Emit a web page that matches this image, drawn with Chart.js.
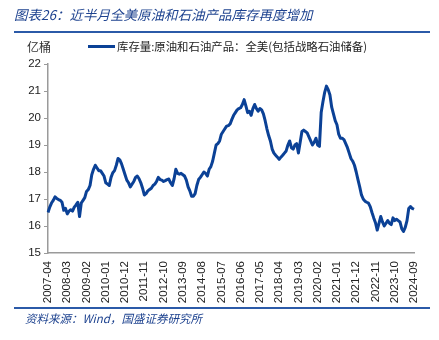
<!DOCTYPE html>
<html>
<head>
<meta charset="utf-8">
<script src="https://cdn.jsdelivr.net/npm/chart.js@4"></script>
<style>
  body { margin: 0; background: #fff; }
  #wrap { position: relative; width: 439px; height: 340px; overflow: hidden; }
  #grafico { position: absolute; left: 0; top: 0; }
  .txt { position: absolute; white-space: nowrap; font-family: "Noto Sans CJK SC", "Noto Sans", sans-serif; }
  .titulo { left: 14px; top: 4px; font-size: 13.5px; font-style: italic; color: #1d428f; }
  .raya { position: absolute; left: 14px; width: 416px; height: 2px; background: #2b5aa8; }
  .unidad { left: 27px; top: 38px; font-size: 12px; color: #333; }
  .leyenda-linea { position: absolute; left: 88px; top: 45px; width: 27px; height: 3px; background: #0b4196; }
  .leyenda { left: 117px; top: 38px; font-size: 11.4px; color: #222; }
  .fuente { left: 25px; top: 310px; font-size: 11.5px; font-style: italic; color: #1d428f; }
</style>
</head>
<body>
<div id="wrap">
  <canvas id="grafico" width="439" height="340"></canvas>
  <div class="txt titulo">图表26：近半月全美原油和石油产品库存再度增加</div>
  <div class="raya" style="top:31px"></div>
  <div class="txt unidad">亿桶</div>
  <div class="leyenda-linea"></div>
  <div class="txt leyenda">库存量:原油和石油产品：全美(包括战略石油储备)</div>
  <div class="raya" style="top:307px"></div>
  <div class="txt fuente">资料来源：Wind，国盛证券研究所</div>
</div>
<script>
// meses: 2007-04 .. 2024-09 (mensual)
const inicio = { anio: 2007, mes: 4 }
const total_meses = 210

// etiquetas que se ven en el eje x
const etiquetas_eje = ["2007-04", "2008-03", "2009-02", "2010-01", "2010-12", "2011-11", "2012-10",
  "2013-09", "2014-08", "2015-07", "2016-06", "2017-05", "2018-04", "2019-03", "2020-02",
  "2021-01", "2021-12", "2022-11", "2023-10", "2024-09"]

const ticks_y = [15, 16, 17, 18, 19, 20, 21, 22]

// inventario (亿桶), por tramos
const valores_2007_2010 = [16.5, 16.7, 16.85, 16.95, 17.08, 17.02, 16.98, 16.95, 16.88, 16.58,
  16.65, 16.45, 16.55, 16.6, 16.55, 16.7, 16.78, 16.88, 16.35, 16.85,
  16.95, 17.05, 17.28, 17.35, 17.5, 17.9, 18.1, 18.25, 18.15, 18.05,
  18.05, 17.95, 17.85, 17.6, 17.55, 17.5, 17.8, 17.97, 18.05, 18.25]
const valores_2010_2014 = [18.5, 18.45, 18.3, 18.1, 17.9, 17.7, 17.6, 17.45, 17.55, 17.65,
  17.8, 17.85, 17.75, 17.6, 17.4, 17.15, 17.2, 17.3, 17.35, 17.4,
  17.5, 17.55, 17.65, 17.8, 17.72, 17.7, 17.65, 17.68, 17.72, 17.74,
  17.6, 17.5, 17.75, 18.1, 17.95, 17.92, 17.95, 17.9, 17.85, 17.7]
const valores_2014_2017 = [17.45, 17.3, 17.1, 17.1, 17.2, 17.5, 17.72, 17.8, 17.9, 18.0,
  17.95, 17.85, 18.1, 18.2, 18.4, 18.7, 19.0, 19.05, 19.15, 19.4,
  19.5, 19.6, 19.7, 19.72, 19.78, 19.95, 20.1, 20.2, 20.3, 20.35,
  20.38, 20.5, 20.68, 20.45, 20.2, 20.25, 20.1, 20.35, 20.5, 20.35]
const valores_2017_2020 = [20.25, 20.35, 20.3, 20.15, 19.9, 19.6, 19.35, 19.15, 18.85, 18.7,
  18.62, 18.55, 18.47, 18.55, 18.62, 18.7, 18.78, 19.0, 19.15, 18.9,
  18.85, 19.0, 19.05, 18.7, 19.1, 19.5, 19.55, 19.5, 19.45, 19.3,
  19.15, 19.0, 19.1, 19.25, 19.0, 18.95, 20.2, 20.6, 20.95, 21.18]
const valores_2020_2024 = [21.05, 20.85, 20.4, 20.15, 19.9, 19.75, 19.4, 19.25, 19.25, 19.2,
  19.05, 18.9, 18.7, 18.5, 18.4, 18.25, 18.0, 17.72, 17.45, 17.15,
  17.0, 16.92, 16.88, 16.85, 16.72, 16.5, 16.3, 16.12, 15.85, 16.1,
  16.35, 16.15, 16.0, 16.1, 16.2, 16.1, 16.05, 16.3, 16.2, 16.25,
  16.2, 16.15, 15.9, 15.8, 15.95, 16.2, 16.65, 16.72, 16.65, 16.62]

const valores = [].concat(valores_2007_2010, valores_2010_2014, valores_2014_2017,
  valores_2017_2020, valores_2020_2024)

const meses = []
for (let i = 0; i < total_meses; i++) {
  const m = inicio.mes - 1 + i
  const anio = inicio.anio + Math.floor(m / 12)
  const mes = (m % 12) + 1
  meses.push(anio + "-" + String(mes).padStart(2, "0"))
}

const fuente_ticks = { family: "'Liberation Sans', Arial, sans-serif", size: 11.5 }

const ctx = document.getElementById("grafico").getContext("2d")
new Chart(ctx, {
  type: "line",
  data: {
    labels: meses,
    datasets: [{
      label: "库存量:原油和石油产品：全美(包括战略石油储备)",
      data: valores,
      borderColor: "#0b4196",
      borderWidth: 3,
      pointRadius: 0,
      tension: 0,
      borderJoinStyle: "round",
      fill: false
    }]
  },
  options: {
    responsive: false,
    animation: false,
    layout: { padding: { top: 64, right: 25, left: 0, bottom: 0 } },
    plugins: { legend: { display: false }, tooltip: { enabled: false } },
    scales: {
      x: {
        grid: { display: true, drawOnChartArea: false, drawTicks: false },
        border: { color: "#9a9a9a", width: 1.5 },
        afterFit: s => { s.height = 87 },
        ticks: {
          autoSkip: false,
          minRotation: 90,
          maxRotation: 90,
          padding: 8,
          color: "#222",
          font: fuente_ticks,
          callback: function(v, i) {
            const et = meses[i]
            return etiquetas_eje.includes(et) ? et : null
          }
        }
      },
      y: {
        min: 15,
        max: 22,
        grid: { drawOnChartArea: false, drawTicks: true, tickLength: 4, color: "#9a9a9a" },
        border: { color: "#9a9a9a", width: 1.5 },
        afterFit: s => { s.width = 48 },
        afterBuildTicks: s => { s.ticks = ticks_y.map(v => ({ value: v })) },
        ticks: { padding: 3, color: "#222", font: fuente_ticks }
      }
    }
  }
})
</script>
</body>
</html>
